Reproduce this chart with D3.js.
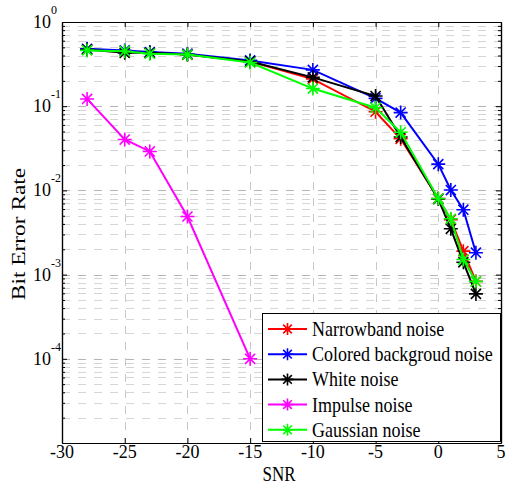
<!DOCTYPE html>
<html>
<head>
<meta charset="utf-8">
<script src="https://cdn.jsdelivr.net/npm/d3@7"></script>
<style>
  html, body { margin: 0; padding: 0; background: #fff; }
  svg { display: block; font-family: "Liberation Serif", "Times New Roman", serif; }
</style>
</head>
<body>
<svg id="chart" width="505" height="489"></svg>
<script>
// SNR sweep (dB)
const snr = [-28, -25, -23, -20, -15, -10, -5, -3, 0, 1, 2, 3];
const snrImpulse = [-28, -25, -23, -20, -15];

// Bit error rate per noise type
const berNarrowband = [0.47, 0.45, 0.43, 0.41, 0.34, 0.21, 0.086, 0.041, 0.0080, 0.0045, 0.0019, 0.00083];
const berColored    = [0.48, 0.46, 0.44, 0.42, 0.35, 0.27, 0.124, 0.084, 0.0205, 0.0101, 0.0059, 0.00182];
const berWhite      = [0.47, 0.43, 0.43, 0.41, 0.34, 0.22, 0.132, 0.043, 0.0079, 0.0035, 0.0014, 0.00059];
const berImpulse    = [0.122, 0.0402, 0.0290, 0.0049, 0.0001];
const berGaussian   = [0.46, 0.45, 0.42, 0.41, 0.33, 0.162, 0.096, 0.049, 0.0080, 0.0046, 0.00151, 0.00083];

const seriesNames = ["Narrowband noise", "Colored backgroud noise", "White noise", "Impulse noise", "Gaussian noise"];
const seriesColors = ["#ff0000", "#0000ff", "#000000", "#ff00ff", "#00ff00"];

const xTicks = [-30, -25, -20, -15, -10, -5, 0, 5];
const yDecades = [0, -1, -2, -3, -4];

const series = [
  { x: snr, y: berNarrowband },
  { x: snr, y: berColored },
  { x: snr, y: berWhite },
  { x: snrImpulse, y: berImpulse },
  { x: snr, y: berGaussian }
].map((s, i) => ({ ...s, name: seriesNames[i], color: seriesColors[i] }));

const svg = d3.select("#chart");
const pLeft = 62, pRight = 501, pTop = 22, pBottom = 443;

const x = d3.scaleLinear().domain([-30, 5]).range([pLeft, pRight]);
const y = d3.scaleLog().domain([1e-5, 1]).range([pBottom, pTop]);

// minor (2..9 x decade) values
const minorVals = [];
for (let e = -5; e < 0; e++) for (let m = 2; m <= 9; m++) minorVals.push(m * Math.pow(10, e));
const majorVals = yDecades.map(e => Math.pow(10, e)).concat([1e-5]);

const grid = svg.append("g");
// vertical grid
grid.selectAll("line.vx").data(xTicks.slice(1, -1)).join("line")
  .attr("x1", d => Math.round(x(d)) + 0.5).attr("x2", d => Math.round(x(d)) + 0.5).attr("y1", pTop).attr("y2", pBottom)
  .attr("stroke", "#c8c8c8").attr("stroke-width", 1).attr("stroke-dasharray", "8,8");
// minor horizontal grid
grid.selectAll("line.mh").data(minorVals).join("line")
  .attr("x1", pLeft).attr("x2", pRight).attr("y1", d => Math.round(y(d)) + 0.5).attr("y2", d => Math.round(y(d)) + 0.5)
  .attr("stroke", "#d4d4d4").attr("stroke-width", 1).attr("stroke-dasharray", "8,8");
// major horizontal grid
grid.selectAll("line.Mh").data(majorVals.slice(1, 5)).join("line")
  .attr("x1", pLeft).attr("x2", pRight).attr("y1", d => Math.round(y(d)) + 0.5).attr("y2", d => Math.round(y(d)) + 0.5)
  .attr("stroke", "#b4b4b4").attr("stroke-width", 1).attr("stroke-dasharray", "8,8");

// axes box with inward ticks on all four sides
const axB = d3.axisBottom(x).tickValues(xTicks).tickSizeInner(-5).tickSizeOuter(0).tickFormat("");
const axT = d3.axisTop(x).tickValues(xTicks).tickSizeInner(-5).tickSizeOuter(0).tickFormat("");
const axL = d3.axisLeft(y).tickValues(majorVals).tickSizeInner(-5).tickSizeOuter(0).tickFormat("");
const axR = d3.axisRight(y).tickValues(majorVals).tickSizeInner(-5).tickSizeOuter(0).tickFormat("");
const axLm = d3.axisLeft(y).tickValues(minorVals).tickSizeInner(-3).tickSizeOuter(0).tickFormat("");
const axRm = d3.axisRight(y).tickValues(minorVals).tickSizeInner(-3).tickSizeOuter(0).tickFormat("");

function styleAxis(g) {
  g.selectAll("path").attr("stroke", "#000").attr("stroke-width", 1.2);
  g.selectAll("line").attr("stroke", "#000").attr("stroke-width", 1);
}
svg.append("g").attr("transform", `translate(0,${pBottom})`).call(axB).call(styleAxis);
svg.append("g").attr("transform", `translate(0,${pTop})`).call(axT).call(styleAxis);
svg.append("g").attr("transform", `translate(${pLeft},0)`).call(axL).call(styleAxis);
svg.append("g").attr("transform", `translate(${pRight},0)`).call(axR).call(styleAxis);
svg.append("g").attr("transform", `translate(${pLeft},0)`).call(axLm).call(styleAxis);
svg.append("g").attr("transform", `translate(${pRight},0)`).call(axRm).call(styleAxis);

// x tick labels (slightly tall serif type)
svg.append("g").selectAll("text").data(xTicks).join("text")
  .attr("transform", d => `translate(${x(d)},458) scale(1,1.08)`).attr("text-anchor", "middle")
  .attr("font-size", 18).attr("fill", "#000").text(d => d);

// y tick labels as 10^e
const yl = svg.append("g").selectAll("g").data(yDecades).join("g")
  .attr("transform", e => `translate(51,${y(Math.pow(10, e)) + 6}) scale(1,1.08)`);
yl.append("text").attr("text-anchor", "end").attr("font-size", 18).attr("fill", "#000").text("10");
yl.append("text").attr("x", 0).attr("y", -13).attr("font-size", 12).attr("fill", "#000").text(e => e);

// axis titles
svg.append("text").attr("transform", "translate(279,481) scale(1,1.2)").attr("text-anchor", "middle")
  .attr("font-size", 17).text("SNR");
svg.append("text").attr("transform", `translate(25,234) scale(1,1.2) rotate(-90)`)
  .attr("text-anchor", "middle").attr("font-size", 19.5).text("Bit Error Rate");

// asterisk marker path
function star(cx, cy, r) {
  const d = r * 0.72;
  return `M${cx - r},${cy}L${cx + r},${cy}M${cx},${cy - r}L${cx},${cy + r}` +
         `M${cx - d},${cy - d}L${cx + d},${cy + d}M${cx - d},${cy + d}L${cx + d},${cy - d}`;
}

const line = d3.line().x(d => x(d[0])).y(d => y(d[1]));
const plot = svg.append("g");
series.forEach(s => {
  const pts = s.x.map((v, i) => [v, s.y[i]]);
  const g = plot.append("g");
  g.append("path").attr("d", line(pts)).attr("fill", "none")
    .attr("stroke", s.color).attr("stroke-width", 2);
  g.selectAll("path.m").data(pts).join("path").attr("class", "m")
    .attr("d", d => star(x(d[0]), y(d[1]), 7))
    .attr("stroke", s.color).attr("stroke-width", 1.6).attr("fill", "none");
});

// legend
const lg = svg.append("g");
lg.append("rect").attr("x", 262.5).attr("y", 313.5).attr("width", 238).attr("height", 128)
  .attr("fill", "#fff").attr("stroke", "#000").attr("stroke-width", 1);
const items = lg.selectAll("g.item").data(series).join("g").attr("class", "item")
  .attr("transform", (d, i) => `translate(0,${329 + i * 25.2})`);
items.append("line").attr("x1", 268).attr("x2", 307).attr("y1", 0).attr("y2", 0)
  .attr("stroke", d => d.color).attr("stroke-width", 2);
items.append("path").attr("d", star(287.5, 0, 6)).attr("stroke", d => d.color)
  .attr("stroke-width", 1.6).attr("fill", "none");
items.append("text").attr("transform", "translate(312,7) scale(1,1.15)")
  .attr("font-size", 18).attr("fill", "#000").text(d => d.name);
</script>
</body>
</html>
